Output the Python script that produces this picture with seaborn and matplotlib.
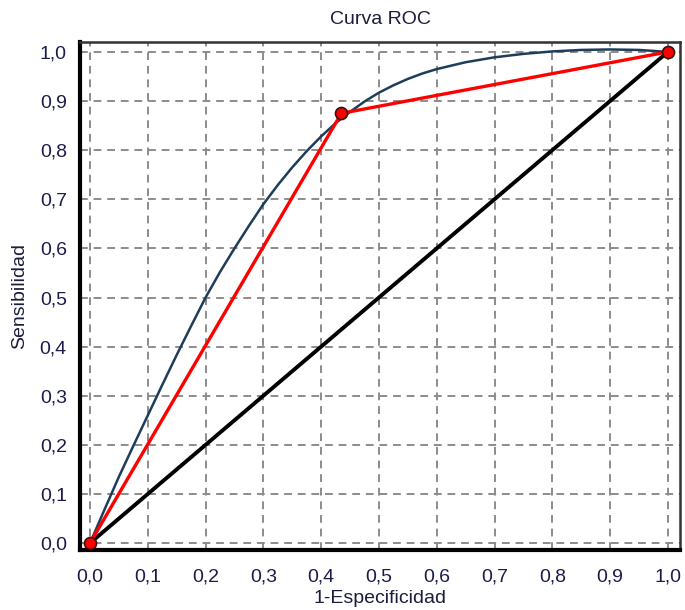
import matplotlib
matplotlib.use("Agg")
import matplotlib.pyplot as plt
import matplotlib.ticker as mticker
import seaborn as sns
import pandas as pd

# ROC empirica (puntos de corte)
roc_fpr = [0.0, 0.435, 1.0]
roc_tpr = [0.0, 0.875, 1.0]

# curva ajustada
fit_fpr = [0.0, 0.025, 0.05, 0.075, 0.1, 0.125, 0.15, 0.175, 0.2, 0.225,
           0.25, 0.275, 0.3, 0.325, 0.35, 0.375, 0.4, 0.425, 0.45, 0.475,
           0.5, 0.525, 0.55, 0.575, 0.6, 0.65, 0.7, 0.75, 0.8, 0.85, 0.9,
           0.95, 1.0]
fit_tpr = [0.0, 0.068, 0.135, 0.198, 0.26, 0.322, 0.383, 0.442, 0.5, 0.552,
           0.6, 0.646, 0.69, 0.729, 0.765, 0.798, 0.828, 0.855, 0.878, 0.899,
           0.917, 0.932, 0.945, 0.956, 0.965, 0.979, 0.989, 0.996, 1.001,
           1.004, 1.005, 1.004, 1.0]

# diagonal de referencia
diag = [0.0, 1.0]

ticks = [i / 10 for i in range(11)]

sns.set_style("white")
plt.rcParams['font.family'] = ['Liberation Sans', 'DejaVu Sans']

fig = plt.figure(figsize=(6.85, 6.10), dpi=100)
ax = fig.add_axes([0.1168, 0.0984, 0.8759, 0.8326])

df_roc = pd.DataFrame({"x": roc_fpr, "y": roc_tpr})
df_fit = pd.DataFrame({"x": fit_fpr, "y": fit_tpr})
df_diag = pd.DataFrame({"x": diag, "y": diag})

sns.lineplot(data=df_diag, x="x", y="y", ax=ax, color="black", lw=2.8,
             sort=False, zorder=3)
sns.lineplot(data=df_fit, x="x", y="y", ax=ax, color="#1e3d5a", lw=1.8,
             sort=False, zorder=4)
sns.lineplot(data=df_roc, x="x", y="y", ax=ax, color="#ff0000", lw=2.4,
             sort=False, zorder=5)
sns.scatterplot(data=df_roc, x="x", y="y", ax=ax, color="#ff0000",
                edgecolor="#3a1010", linewidth=1.2, s=75, marker="o",
                zorder=6)

ax.set_xlim(-0.0173, 1.021)
ax.set_ylim(-0.014, 1.02)
ax.set_xticks(ticks)
ax.set_yticks(ticks)
ax.xaxis.set_minor_locator(mticker.MultipleLocator(0.05))
ax.yaxis.set_minor_locator(mticker.MultipleLocator(0.025))
fmt = mticker.FuncFormatter(lambda v, p: f"{v:.1f}".replace(".", ","))
ax.xaxis.set_major_formatter(fmt)
ax.yaxis.set_major_formatter(fmt)

ax.grid(True, which="major", color="#8c8c8c", ls=(0, (4, 3)), lw=1.4)
ax.set_axisbelow(True)

ax.tick_params(axis="both", which="major", direction="inout", length=9,
               width=1.2, color="#555555", labelsize=14,
               labelcolor="#1c1c4c", pad=5)
ax.tick_params(axis="x", which="major", pad=9)
ax.tick_params(axis="both", which="minor", direction="out", length=3,
               width=1, color="#555555")

for side in ["left", "bottom"]:
    ax.spines[side].set_linewidth(3)
    ax.spines[side].set_color("black")
for side in ["top", "right"]:
    ax.spines[side].set_linewidth(1.8)
    ax.spines[side].set_color("#333333")

ax.set_title("Curva ROC", fontsize=14, color="#1c1c3c", pad=13)
ax.set_xlabel("1-Especificidad", fontsize=14, color="#1c1c3c", labelpad=3)
ax.set_ylabel("Sensibilidad", fontsize=14, color="#1c1c3c", labelpad=8)

fig.savefig("out.png", dpi=100)
